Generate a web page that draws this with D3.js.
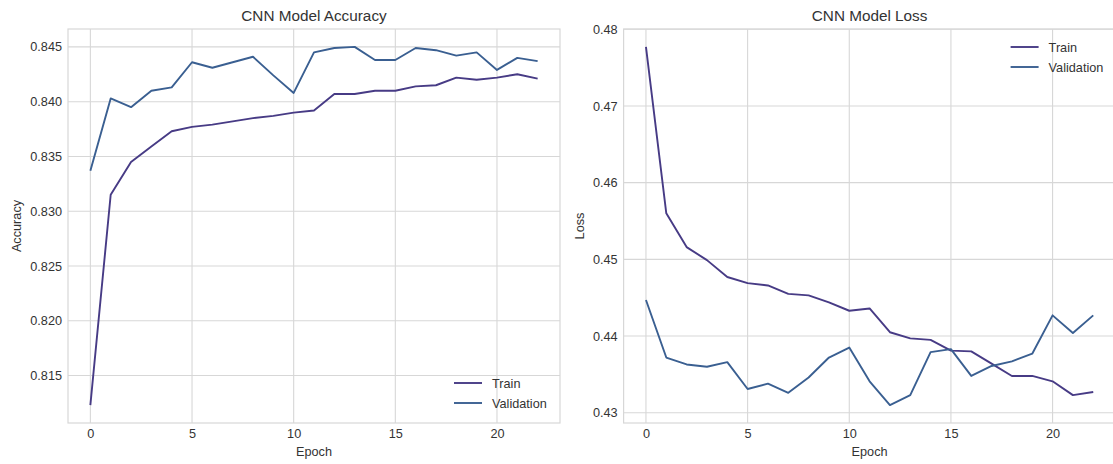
<!DOCTYPE html>
<html>
<head>
<meta charset="utf-8">
<script src="https://cdn.jsdelivr.net/npm/d3@7"></script>
<style>
  body { margin: 0; background: #fff; }
  svg { display: block; font-family: "Liberation Sans", Arial, sans-serif; }
</style>
</head>
<body>
<svg id="chart" width="1113" height="464"></svg>
<script>
const epochs = d3.range(0, 23);

const trainAcc = [0.8123, 0.8315, 0.8345, 0.8359, 0.8373, 0.8377, 0.8379, 0.8382, 0.8385, 0.8387, 0.8390, 0.8392,
  0.8407, 0.8407, 0.8410, 0.8410, 0.8414, 0.8415, 0.8422, 0.8420, 0.8422, 0.8425, 0.8421];
const valAcc = [0.8337, 0.8403, 0.8395, 0.8410, 0.8413, 0.8436, 0.8431, 0.8436, 0.8441, 0.8424, 0.8408, 0.8445,
  0.8449, 0.8450, 0.8438, 0.8438, 0.8449, 0.8447, 0.8442, 0.8445, 0.8429, 0.8440, 0.8437];

const trainLoss = [0.4777, 0.4560, 0.4516, 0.4499, 0.4477, 0.4469, 0.4466, 0.4455, 0.4453, 0.4444, 0.4433, 0.4436,
  0.4405, 0.4397, 0.4395, 0.4381, 0.4380, 0.4364, 0.4348, 0.4348, 0.4341, 0.4323, 0.4327];
const valLoss = [0.4447, 0.4372, 0.4363, 0.4360, 0.4366, 0.4331, 0.4338, 0.4326, 0.4346, 0.4372, 0.4385, 0.4341,
  0.4310, 0.4323, 0.4379, 0.4383, 0.4348, 0.4361, 0.4367, 0.4377, 0.4427, 0.4404, 0.4427];

const accTicks = [0.815, 0.820, 0.825, 0.830, 0.835, 0.840, 0.845];
const lossTicks = [0.43, 0.44, 0.45, 0.46, 0.47, 0.48];
const epochTicks = [0, 5, 10, 15, 20];
const seriesNames = ["Train", "Validation"];
const colors = ["#473b85", "#3a5f91"];

const svg = d3.select("#chart");
const axTop = 29, axBottom = 423, axW = 492;
const textColor = "#333";
const gridColor = "#d7d7d7";

function padded(arrs) {
  const all = arrs.flat();
  const lo = d3.min(all), hi = d3.max(all);
  const m = (hi - lo) * 0.05;
  return [lo - m, hi + m];
}

function panel(left, title, yLabel, train, val, yTicks, fmt, legendPos) {
  const g = svg.append("g").attr("transform", `translate(${left},0)`);

  const x = d3.scaleLinear().domain([-1.1, 23.1]).range([0, axW]);
  const y = d3.scaleLinear().domain(padded([train, val])).range([axBottom, axTop]);

  const xAxis = d3.axisBottom(x).tickValues(epochTicks).tickSize(0).tickPadding(6);
  const yAxis = d3.axisLeft(y).tickValues(yTicks).tickFormat(d3.format(fmt)).tickSize(0).tickPadding(6);

  // grid
  g.append("g").selectAll("line").data(epochTicks).enter().append("line")
    .attr("x1", d => x(d)).attr("x2", d => x(d))
    .attr("y1", axTop).attr("y2", axBottom)
    .attr("stroke", gridColor).attr("stroke-width", 1.1);
  g.append("g").selectAll("line").data(yTicks).enter().append("line")
    .attr("x1", 0).attr("x2", axW)
    .attr("y1", d => y(d)).attr("y2", d => y(d))
    .attr("stroke", gridColor).attr("stroke-width", 1.1);

  // frame
  g.append("rect")
    .attr("x", 0).attr("y", axTop).attr("width", axW).attr("height", axBottom - axTop)
    .attr("fill", "none").attr("stroke", gridColor).attr("stroke-width", 1.2);

  const xa = g.append("g").attr("transform", `translate(0,${axBottom})`).call(xAxis);
  const ya = g.append("g").call(yAxis);
  [xa, ya].forEach(a => {
    a.select(".domain").remove();
    a.selectAll("text").attr("fill", textColor).style("font-size", "12.7px")
      .style("font-family", "'Liberation Sans', Arial, sans-serif");
  });

  const line = d3.line().x((d, i) => x(epochs[i])).y(d => y(d));
  [train, val].forEach((s, k) => {
    g.append("path").datum(s)
      .attr("d", line)
      .attr("fill", "none")
      .attr("stroke", colors[k])
      .attr("stroke-width", 1.9)
      .attr("stroke-linejoin", "round");
  });

  g.append("text")
    .attr("x", axW / 2).attr("y", 21)
    .attr("text-anchor", "middle")
    .attr("fill", textColor)
    .style("font-size", "15.3px")
    .text(title);

  g.append("text")
    .attr("x", axW / 2).attr("y", 456)
    .attr("text-anchor", "middle")
    .attr("fill", textColor)
    .style("font-size", "12.7px")
    .text("Epoch");

  g.append("text")
    .attr("transform", `translate(${legendPos.yl},${(axTop + axBottom) / 2}) rotate(-90)`)
    .attr("text-anchor", "middle")
    .attr("fill", textColor)
    .style("font-size", "12.7px")
    .text(yLabel);

  // legend
  const lg = g.append("g").attr("transform", `translate(${legendPos.x},${legendPos.y})`);
  seriesNames.forEach((name, k) => {
    lg.append("line")
      .attr("x1", 0).attr("x2", 28)
      .attr("y1", k * 20).attr("y2", k * 20)
      .attr("stroke", colors[k]).attr("stroke-width", 1.9);
    lg.append("text")
      .attr("x", 38).attr("y", k * 20 + 4.5)
      .attr("fill", textColor)
      .style("font-size", "12.7px")
      .text(name);
  });
}

panel(68, "CNN Model Accuracy", "Accuracy", trainAcc, valAcc, accTicks, ".3f", { x: 386, y: 383, yl: -47 });
panel(623.6, "CNN Model Loss", "Loss", trainLoss, valLoss, lossTicks, ".2f", { x: 387, y: 47, yl: -40 });
</script>
</body>
</html>
